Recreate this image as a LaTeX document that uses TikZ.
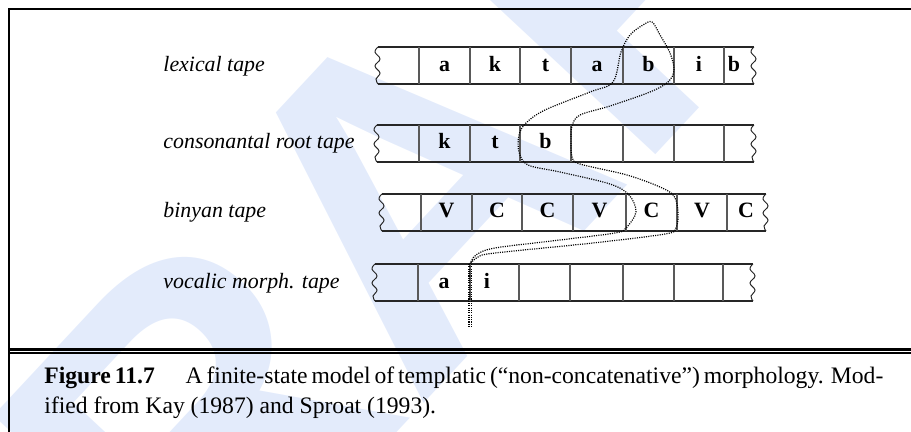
\documentclass[tikz,border=0pt]{standalone}
\usepackage{fontspec}
\setmainfont{Liberation Serif}
\newfontfamily\wmfont[Kerning=Off]{Liberation Sans}
\definecolor{wmblue}{RGB}{227,235,251}
\tikzset{
  tapeedge/.style={draw=black!85, line width=0.5pt},
  cellwall/.style={draw=black!65, line width=0.55pt},
  breakmark/.style={draw=black!85, line width=0.45pt},
  sym/.style={font=\bfseries, inner sep=0pt, anchor=base},
  tapename/.style={font=\itshape, inner sep=0pt, anchor=base west},
  headpath/.style={line width=0.55pt, dash pattern=on 0.5pt off 0.55pt},
  rulethick/.style={line width=1.2pt},
  rulethin/.style={line width=0.6pt},
  wm/.style={text=wmblue, font=\wmfont\bfseries\fontsize{203.5pt}{203.5pt}\selectfont,
    inner sep=0pt, anchor=base west},
  captext/.style={inner sep=0pt, anchor=base west, font=\fontsize{10.8pt}{13pt}\selectfont},
}
% wavy break mark closing a tape end: #1 = x, #2 = top y
\newcommand\breakat[2]{%
  \draw[breakmark] plot[smooth, tension=0.7] coordinates
    {(#1,#2) (#1-3,#2+5) (#1+2,#2+12) (#1-3,#2+19) (#1+2,#2+26) (#1-2,#2+32) (#1,#2+37)};}
% tape: #1 top y, #2 left x, #3 right x, #4 cell walls
\newcommand\tapebody[4]{%
  \draw[tapeedge] (#2,#1) -- (#3,#1) (#2,#1+37) -- (#3,#1+37);
  \foreach \d in {#4} \draw[cellwall] (\d,#1) -- (\d,#1+37);
  \breakat{#2}{#1}\breakat{#3}{#1}}
\begin{document}
\begin{tikzpicture}[x=0.4572pt, y=-0.4572pt]
\useasboundingbox (0,0) rectangle (911,432);
\clip (0,0) rectangle (911,432);

% watermark
\node[wm, rotate=47] (wmark) at (-21.9,881.4) {DRAFT};

% frame and caption rules
\draw[rulethick] (911,9) -- (9,9) -- (9,432);
\draw[rulethick] (9,349.3) -- (911,349.3);
\draw[rulethin] (9,353) -- (911,353);

% tapes
\tapebody{47}{378}{754}{419,470,520,571,623,674,724}
\tapebody{125}{377}{754}{419,470,520,571,623,674,724}
\tapebody{194}{382}{766}{421,472,522,573,626,677,727}
\tapebody{264}{375}{753}{418,470,519,570,623,674,723}

% tape names
\node[tapename] (nlex) at (163,72) {lexical tape};
\node[tapename] (ncons) at (163,149) {consonantal root tape};
\node[tapename] (nbin) at (163,218) {binyan tape};
\node[tapename] (nvoc) at (163,288) {vocalic morph. tape};

% lexical symbols
\node[sym] (l1) at (444.5,72) {a};
\node[sym] (l2) at (495,72) {k};
\node[sym] (l3) at (545.5,72) {t};
\node[sym] (l4) at (597,72) {a};
\node[sym] (l5) at (648.5,72) {b};
\node[sym] (l6) at (699,72) {i};
\node[sym] (l7) at (734,72) {b};
% root symbols
\node[sym] (r1) at (444.5,149) {k};
\node[sym] (r2) at (495,149) {t};
\node[sym] (r3) at (545.5,149) {b};
% binyan symbols
\node[sym] (b1) at (446.5,218) {V};
\node[sym] (b2) at (497,218) {C};
\node[sym] (b3) at (547.5,218) {C};
\node[sym] (b4) at (599.5,218) {V};
\node[sym] (b5) at (651.5,218) {C};
\node[sym] (b6) at (702,218) {V};
\node[sym] (b7) at (746,218) {C};
% vocalic symbols
\node[sym] (v1) at (444,288) {a};
\node[sym] (v2) at (487,288) {i};

% read head: stem and loop through the current cells
\coordinate (head) at (470,264);
\coordinate (tail) at (470,328);
\coordinate (apex) at (652,22);
\draw[headpath] ([xshift=-0.5]head) -- ([xshift=-0.5]tail);
\draw[headpath] ([xshift=0.6]head) -- ([xshift=0.6]tail);
\draw[headpath] plot[smooth, tension=0.55] coordinates {
  (head) (476,255) (495,248) (560,240) (615,233) (626,228) (636,212) (629,195)
  (610,184) (560,172) (528,165) (519,152) (519,135) (526,123) (545,110)
  (590,92) (613,82) (621,52) (630,35) (643,25) (apex)
  (660,35) (670,53) (674,70) (668,82) (650,92) (610,106) (580,115) (572,126)
  (571,140) (572,157) (580,164) (627,175) (660,187) (674,196) (678,212)
  (676,228) (665,234) (593,243) (495,253) (478,257) (head)};

% caption
\node[captext] (cap1) at (44,383)
  {\makebox[377.6pt][s]{\textbf{Figure 11.7}\hspace{1.3em}A finite-state model of templatic (“non-concatenative”) morphology. Mod-}};
\node[captext] (cap2) at (44,413) {ified from Kay (1987) and Sproat (1993).};
\end{tikzpicture}
\end{document}
